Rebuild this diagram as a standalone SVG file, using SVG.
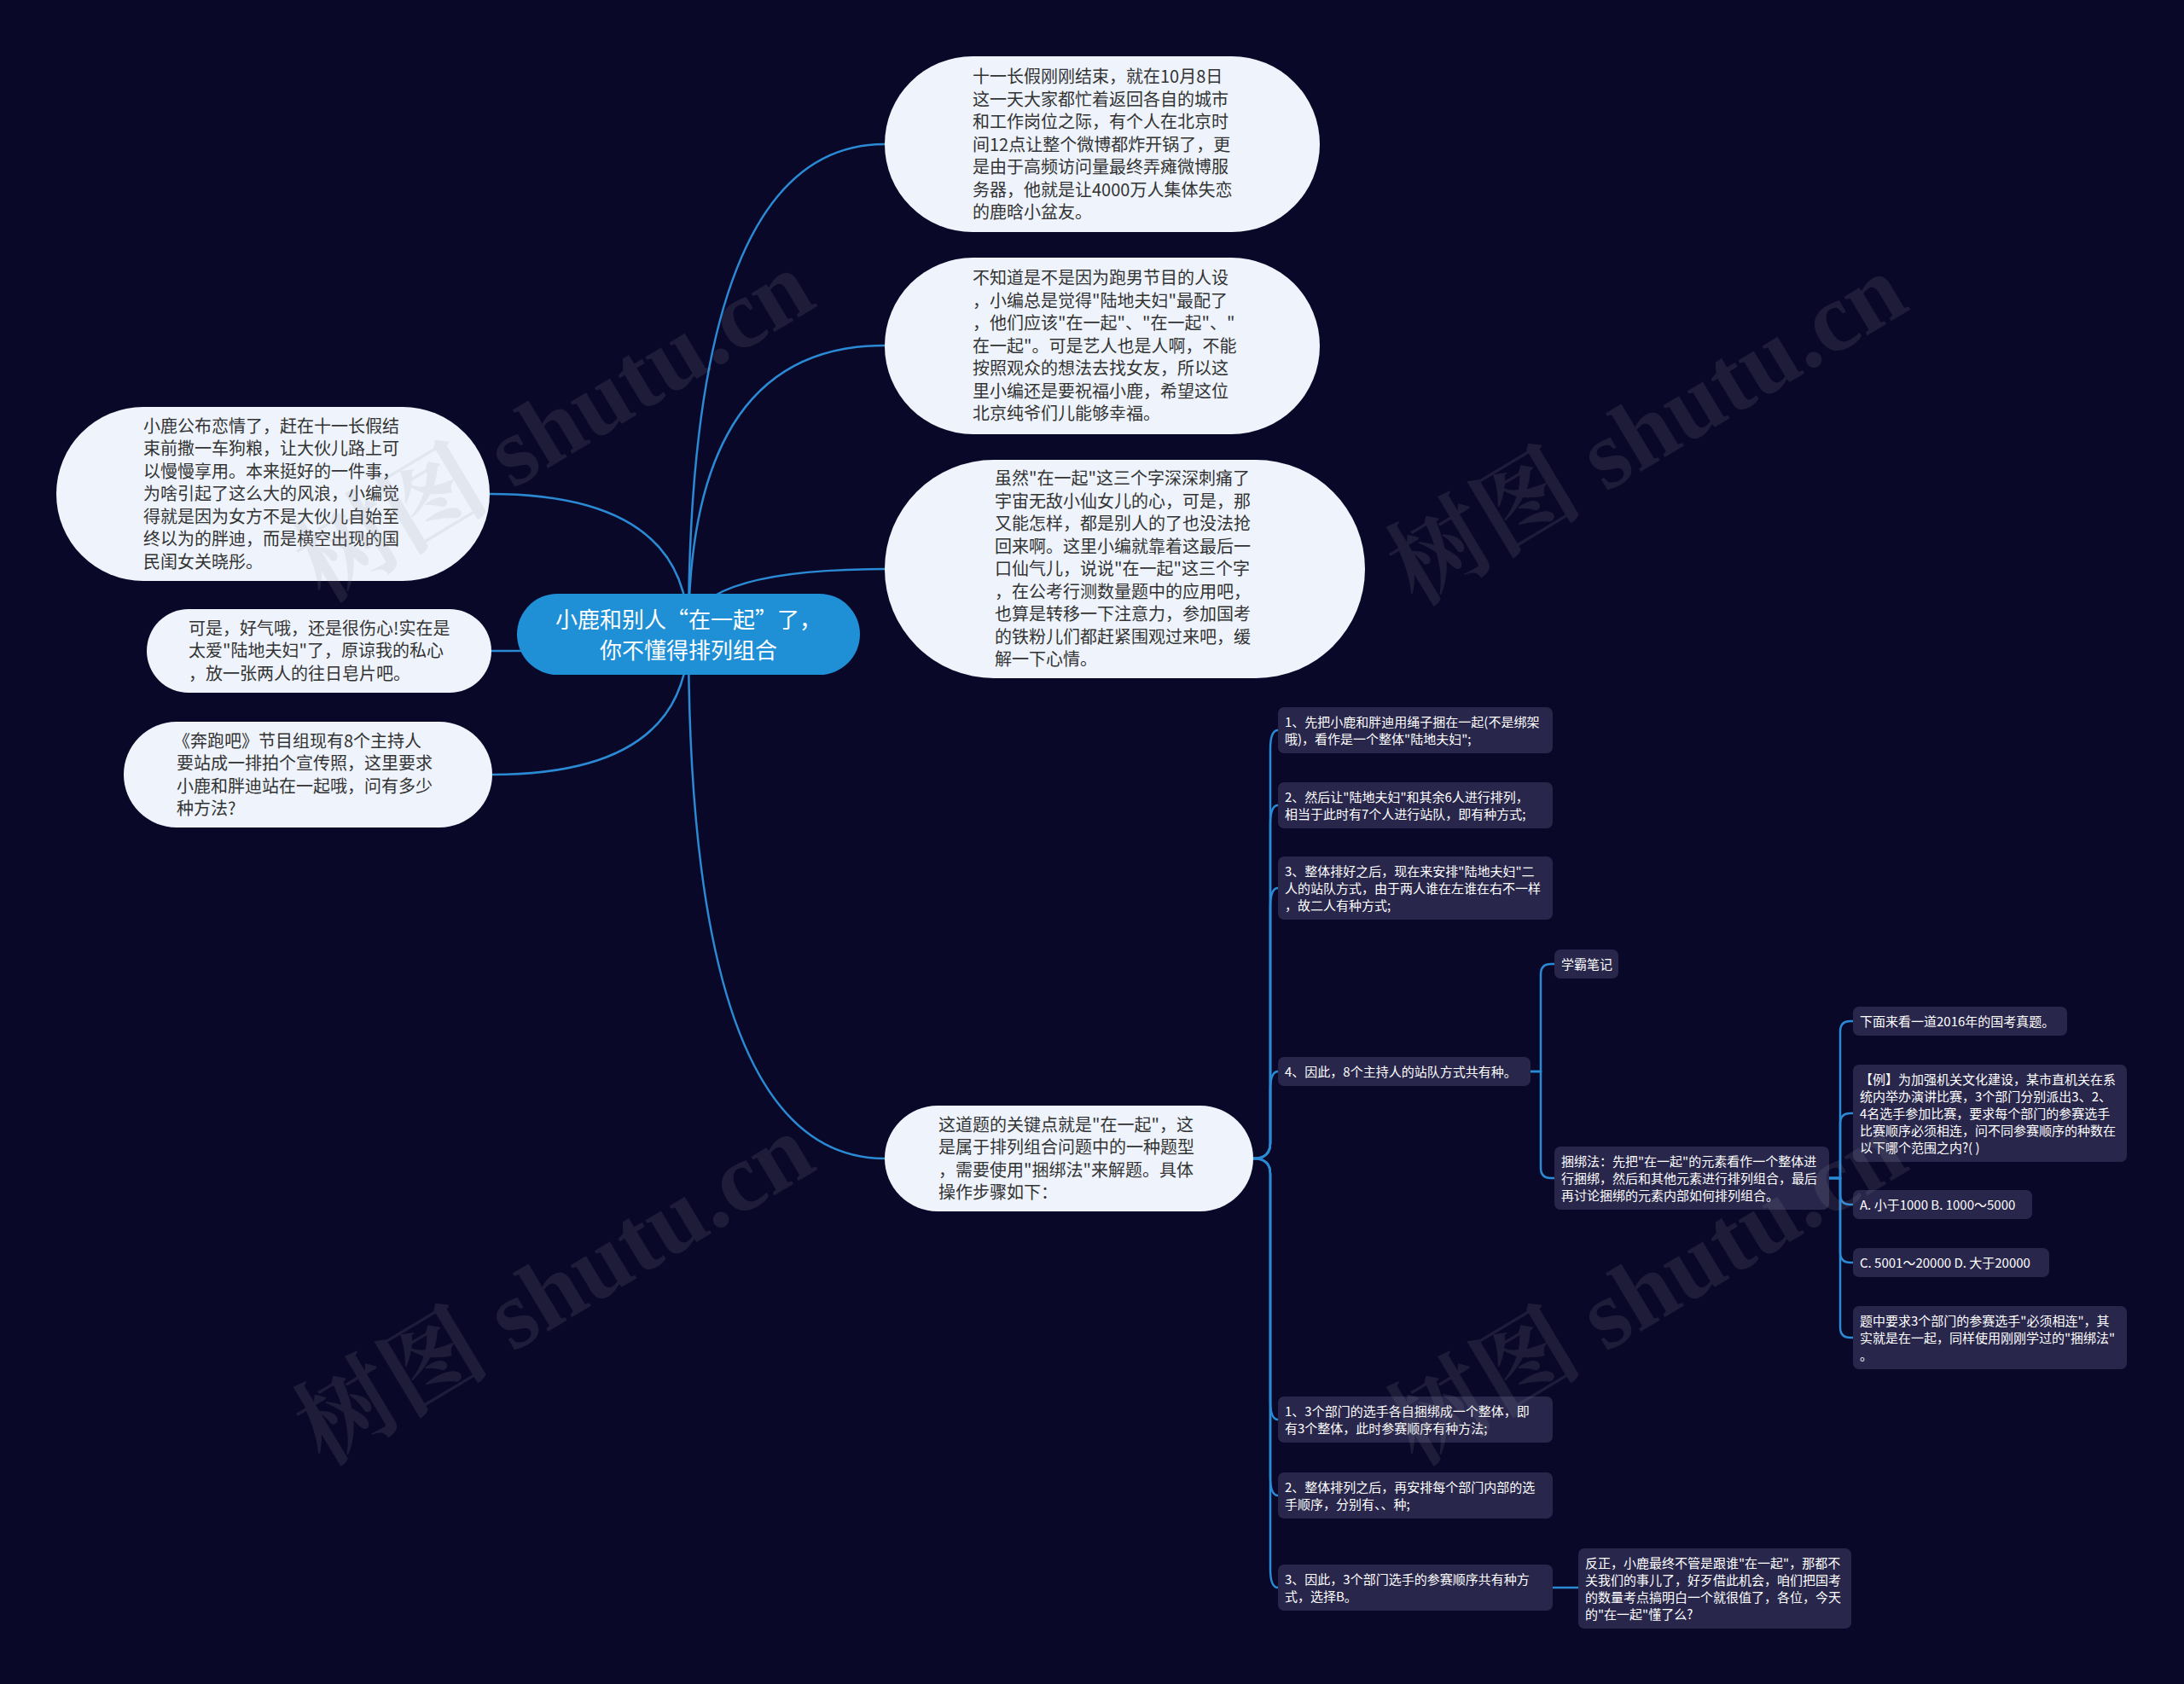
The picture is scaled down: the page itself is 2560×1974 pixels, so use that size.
<svg xmlns="http://www.w3.org/2000/svg" width="2560" height="1974" viewBox="0 0 2560 1974">
<style>
.bg{fill:#0a0828}
.pill{fill:#eef3fc}
.pt{font-family:"Noto Sans CJK SC","Noto Sans",sans-serif;font-size:20px;fill:#333333}
.ctr{fill:#1f8fd6}
.ct{font-family:"Noto Sans CJK SC","Noto Sans",sans-serif;font-size:26px;fill:#ffffff;text-anchor:middle}
.box{fill:#28264b}
.bt{font-family:"Noto Sans CJK SC","Noto Sans",sans-serif;font-size:15px;fill:#ffffff}
.ln{fill:none;stroke:#2a8ad4;stroke-width:2.5;stroke-linecap:round}
.wm{font-family:"Liberation Serif","Noto Serif CJK SC","Noto Sans CJK SC",serif;font-size:115px;font-weight:bold;fill:#9a9aa6;fill-opacity:0.14}
</style>
<rect class="bg" x="0" y="0" width="2560" height="1974"/>

<g id="connectors">
<path class="ln" d="M807 744 Q807 169 1037 169"/>
<path class="ln" d="M807 744 Q807 405 1037 405"/>
<path class="ln" d="M807 744 Q807 667 1037 667"/>
<path class="ln" d="M807 744 Q807 579 574 579"/>
<path class="ln" d="M807 744 Q807 763 576 763"/>
<path class="ln" d="M807 744 Q807 908 577 908"/>
<path class="ln" d="M807 744 Q807 1358 1037 1358"/>
<path class="ln" d="M1469 1358 C1482 1358 1489 1352 1489 1340 L1489 878 C1489 864 1492 856 1498 856"/>
<path class="ln" d="M1469 1358 C1482 1358 1489 1352 1489 1340 L1489 966 C1489 952 1492 944 1498 944"/>
<path class="ln" d="M1469 1358 C1482 1358 1489 1352 1489 1340 L1489 1063 C1489 1049 1492 1041 1498 1041"/>
<path class="ln" d="M1469 1358 C1482 1358 1489 1352 1489 1340 L1489 1278 C1489 1264 1492 1256 1498 1256"/>
<path class="ln" d="M1469 1358 C1482 1358 1489 1364 1489 1376 L1489 1642 C1489 1656 1492 1664 1498 1664"/>
<path class="ln" d="M1469 1358 C1482 1358 1489 1364 1489 1376 L1489 1731 C1489 1745 1492 1753 1498 1753"/>
<path class="ln" d="M1469 1358 C1482 1358 1489 1364 1489 1376 L1489 1839 C1489 1853 1492 1861 1498 1861"/>
<path class="ln" d="M1794 1256 H1806 V1142 Q1806 1130 1818 1130 H1822"/>
<path class="ln" d="M1794 1256 H1806 V1369 Q1806 1381 1818 1381 H1822"/>
<path class="ln" d="M2144 1381 H2157 V1209 Q2157 1197 2169 1197 H2172"/>
<path class="ln" d="M2144 1381 H2157 V1317 Q2157 1305 2169 1305 H2172"/>
<path class="ln" d="M2144 1381 H2157 V1400 Q2157 1412 2169 1412 H2172"/>
<path class="ln" d="M2144 1381 H2157 V1468 Q2157 1480 2169 1480 H2172"/>
<path class="ln" d="M2144 1381 H2157 V1556 Q2157 1568 2169 1568 H2172"/>
<path class="ln" d="M1820 1861 H1850"/>
</g>

<g id="center">
<rect class="ctr" x="606" y="696" width="402" height="95" rx="47.5"/>
<text class="ct" x="807" y="736">小鹿和别人“在一起”了，</text>
<text class="ct" x="807" y="772">你不懂得排列组合</text>
</g>

<g id="n1">
<rect class="pill" x="1037" y="66" width="510" height="206" rx="103"/>
<text class="pt" x="1140" y="97">十一长假刚刚结束，就在10月8日</text>
<text class="pt" x="1140" y="123.5">这一天大家都忙着返回各自的城市</text>
<text class="pt" x="1140" y="150">和工作岗位之际，有个人在北京时</text>
<text class="pt" x="1140" y="176.5">间12点让整个微博都炸开锅了，更</text>
<text class="pt" x="1140" y="203">是由于高频访问量最终弄瘫微博服</text>
<text class="pt" x="1140" y="229.5">务器，他就是让4000万人集体失恋</text>
<text class="pt" x="1140" y="256">的鹿晗小盆友。</text>
</g>

<g id="n2">
<rect class="pill" x="1037" y="302" width="510" height="207" rx="103.5"/>
<text class="pt" x="1140" y="333">不知道是不是因为跑男节目的人设</text>
<text class="pt" x="1140" y="359.5">，小编总是觉得"陆地夫妇"最配了</text>
<text class="pt" x="1140" y="386">，他们应该"在一起"、"在一起"、"</text>
<text class="pt" x="1140" y="412.5">在一起"。可是艺人也是人啊，不能</text>
<text class="pt" x="1140" y="439">按照观众的想法去找女友，所以这</text>
<text class="pt" x="1140" y="465.5">里小编还是要祝福小鹿，希望这位</text>
<text class="pt" x="1140" y="492">北京纯爷们儿能够幸福。</text>
</g>

<g id="n3">
<rect class="pill" x="1037" y="539" width="563" height="256" rx="128"/>
<text class="pt" x="1166" y="568">虽然"在一起"这三个字深深刺痛了</text>
<text class="pt" x="1166" y="594.5">宇宙无敌小仙女儿的心，可是，那</text>
<text class="pt" x="1166" y="621">又能怎样，都是别人的了也没法抢</text>
<text class="pt" x="1166" y="647.5">回来啊。这里小编就靠着这最后一</text>
<text class="pt" x="1166" y="674">口仙气儿，说说"在一起"这三个字</text>
<text class="pt" x="1166" y="700.5">，在公考行测数量题中的应用吧，</text>
<text class="pt" x="1166" y="727">也算是转移一下注意力，参加国考</text>
<text class="pt" x="1166" y="753.5">的铁粉儿们都赶紧围观过来吧，缓</text>
<text class="pt" x="1166" y="780">解一下心情。</text>
</g>

<g id="l1">
<rect class="pill" x="66" y="477" width="508" height="204" rx="102"/>
<text class="pt" x="168" y="506.5">小鹿公布恋情了，赶在十一长假结</text>
<text class="pt" x="168" y="533">束前撒一车狗粮，让大伙儿路上可</text>
<text class="pt" x="168" y="559.5">以慢慢享用。本来挺好的一件事，</text>
<text class="pt" x="168" y="586">为啥引起了这么大的风浪，小编觉</text>
<text class="pt" x="168" y="612.5">得就是因为女方不是大伙儿自始至</text>
<text class="pt" x="168" y="639">终以为的胖迪，而是横空出现的国</text>
<text class="pt" x="168" y="665.5">民闺女关晓彤。</text>
</g>

<g id="l2">
<rect class="pill" x="172" y="714" width="404" height="98" rx="49"/>
<text class="pt" x="221" y="743.5">可是，好气哦，还是很伤心!实在是</text>
<text class="pt" x="221" y="770">太爱"陆地夫妇"了，原谅我的私心</text>
<text class="pt" x="221" y="796.5">，放一张两人的往日皂片吧。</text>
</g>

<g id="l3">
<rect class="pill" x="145" y="846" width="432" height="124" rx="62"/>
<text class="pt" x="203" y="875.5">《奔跑吧》节目组现有8个主持人</text>
<text class="pt" x="207" y="902">要站成一排拍个宣传照，这里要求</text>
<text class="pt" x="207" y="928.5">小鹿和胖迪站在一起哦，问有多少</text>
<text class="pt" x="207" y="955">种方法?</text>
</g>

<g id="n4">
<rect class="pill" x="1037" y="1296" width="432" height="124" rx="62"/>
<text class="pt" x="1100" y="1325.5">这道题的关键点就是"在一起"，这</text>
<text class="pt" x="1100" y="1352">是属于排列组合问题中的一种题型</text>
<text class="pt" x="1100" y="1378.5">，需要使用"捆绑法"来解题。具体</text>
<text class="pt" x="1100" y="1405">操作步骤如下：</text>
</g>

<g id="b1">
<rect class="box" x="1498" y="829" width="322" height="54" rx="7"/>
<text class="bt" x="1506" y="851.5">1、先把小鹿和胖迪用绳子捆在一起(不是绑架</text>
<text class="bt" x="1506" y="871.5">哦)，看作是一个整体"陆地夫妇";</text>
</g>
<g id="b2">
<rect class="box" x="1498" y="917" width="322" height="54" rx="7"/>
<text class="bt" x="1506" y="939.5">2、然后让"陆地夫妇"和其余6人进行排列，</text>
<text class="bt" x="1506" y="959.5">相当于此时有7个人进行站队，即有种方式;</text>
</g>
<g id="b3">
<rect class="box" x="1498" y="1004" width="322" height="74" rx="7"/>
<text class="bt" x="1506" y="1026.5">3、整体排好之后，现在来安排"陆地夫妇"二</text>
<text class="bt" x="1506" y="1046.5">人的站队方式，由于两人谁在左谁在右不一样</text>
<text class="bt" x="1506" y="1066.5">，故二人有种方式;</text>
</g>
<g id="b4">
<rect class="box" x="1498" y="1239" width="296" height="34" rx="7"/>
<text class="bt" x="1506" y="1261.5">4、因此，8个主持人的站队方式共有种。</text>
</g>
<g id="xb">
<rect class="box" x="1822" y="1113" width="75" height="34" rx="7"/>
<text class="bt" x="1830" y="1135.5">学霸笔记</text>
</g>
<g id="kb">
<rect class="box" x="1822" y="1344" width="322" height="74" rx="7"/>
<text class="bt" x="1830" y="1366.5">捆绑法：先把"在一起"的元素看作一个整体进</text>
<text class="bt" x="1830" y="1386.5">行捆绑，然后和其他元素进行排列组合，最后</text>
<text class="bt" x="1830" y="1406.5">再讨论捆绑的元素内部如何排列组合。</text>
</g>
<g id="c1">
<rect class="box" x="2172" y="1180" width="251" height="34" rx="7"/>
<text class="bt" x="2180" y="1202.5">下面来看一道2016年的国考真题。</text>
</g>
<g id="c2">
<rect class="box" x="2172" y="1248" width="321" height="114" rx="7"/>
<text class="bt" x="2180" y="1270.5">【例】为加强机关文化建设，某市直机关在系</text>
<text class="bt" x="2180" y="1290.5">统内举办演讲比赛，3个部门分别派出3、2、</text>
<text class="bt" x="2180" y="1310.5">4名选手参加比赛，要求每个部门的参赛选手</text>
<text class="bt" x="2180" y="1330.5">比赛顺序必须相连，问不同参赛顺序的种数在</text>
<text class="bt" x="2180" y="1350.5">以下哪个范围之内?( )</text>
</g>
<g id="c3">
<rect class="box" x="2172" y="1395" width="210" height="34" rx="7"/>
<text class="bt" x="2180" y="1417.5">A. 小于1000 B. 1000～5000</text>
</g>
<g id="c4">
<rect class="box" x="2172" y="1463" width="230" height="34" rx="7"/>
<text class="bt" x="2180" y="1485.5">C. 5001～20000 D. 大于20000</text>
</g>
<g id="c5">
<rect class="box" x="2172" y="1531" width="321" height="74" rx="7"/>
<text class="bt" x="2180" y="1553.5">题中要求3个部门的参赛选手"必须相连"，其</text>
<text class="bt" x="2180" y="1573.5">实就是在一起，同样使用刚刚学过的"捆绑法"</text>
<text class="bt" x="2180" y="1593.5">。</text>
</g>
<g id="b5">
<rect class="box" x="1498" y="1637" width="322" height="54" rx="7"/>
<text class="bt" x="1506" y="1659.5">1、3个部门的选手各自捆绑成一个整体，即</text>
<text class="bt" x="1506" y="1679.5">有3个整体，此时参赛顺序有种方法;</text>
</g>
<g id="b6">
<rect class="box" x="1498" y="1726" width="322" height="54" rx="7"/>
<text class="bt" x="1506" y="1748.5">2、整体排列之后，再安排每个部门内部的选</text>
<text class="bt" x="1506" y="1768.5">手顺序，分别有、、种;</text>
</g>
<g id="b7">
<rect class="box" x="1498" y="1834" width="322" height="54" rx="7"/>
<text class="bt" x="1506" y="1856.5">3、因此，3个部门选手的参赛顺序共有种方</text>
<text class="bt" x="1506" y="1876.5">式，选择B。</text>
</g>
<g id="fin">
<rect class="box" x="1850" y="1815" width="320" height="94" rx="7"/>
<text class="bt" x="1858" y="1837.5">反正，小鹿最终不管是跟谁"在一起"，那都不</text>
<text class="bt" x="1858" y="1857.5">关我们的事儿了，好歹借此机会，咱们把国考</text>
<text class="bt" x="1858" y="1877.5">的数量考点搞明白一个就很值了，各位，今天</text>
<text class="bt" x="1858" y="1897.5">的"在一起"懂了么?</text>
</g>

<g id="watermarks">
<text class="wm" text-anchor="middle" transform="translate(649 498) rotate(-31)" y="40">树图 shutu.cn</text>
<text class="wm" text-anchor="middle" transform="translate(1930 502) rotate(-31)" y="40">树图 shutu.cn</text>
<text class="wm" text-anchor="middle" transform="translate(649 1510) rotate(-31)" y="40">树图 shutu.cn</text>
<text class="wm" text-anchor="middle" transform="translate(1930 1510) rotate(-31)" y="40">树图 shutu.cn</text>
</g>
</svg>
